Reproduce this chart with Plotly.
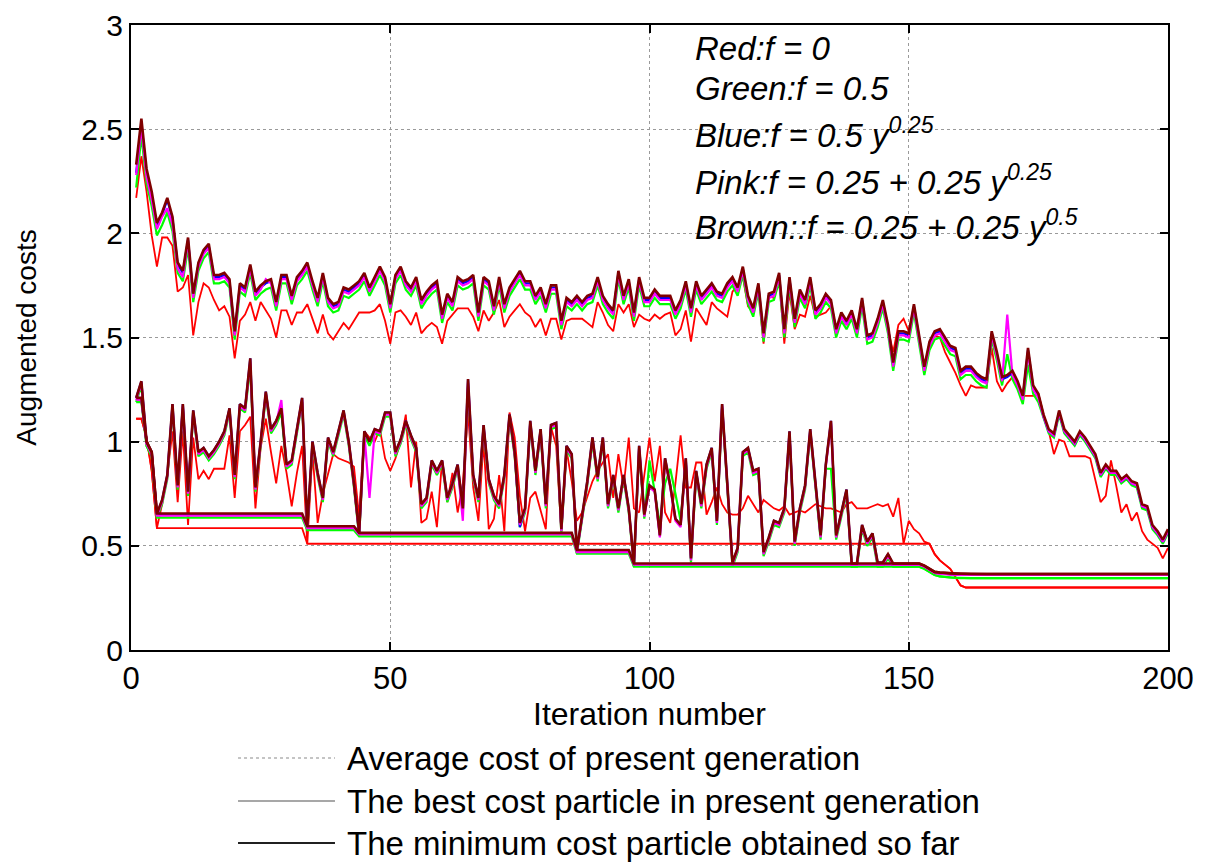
import plotly.graph_objects as go

iterations = list(range(1, 201))

# ---------------- average cost of present generation ----------------
red_avg = [2.17,2.37,2.20,1.99,1.84,1.98,1.98,1.94,1.72,1.74,
           1.80,1.51,1.67,1.76,1.74,1.68,1.63,1.65,1.60,1.40,
           1.58,1.61,1.67,1.58,1.67,1.63,1.59,1.50,1.63,1.63,
           1.56,1.62,1.62,1.66,1.59,1.52,1.61,1.52,1.49,1.53,
           1.57,1.54,1.58,1.62,1.62,1.62,1.63,1.66,1.58,1.47,
           1.62,1.63,1.60,1.56,1.62,1.52,1.55,1.57,1.55,1.47,
           1.58,1.61,1.64,1.64,1.64,1.60,1.53,1.63,1.58,1.62,
           1.68,1.55,1.60,1.63,1.66,1.62,1.60,1.55,1.59,1.51,
           1.59,1.59,1.49,1.58,1.59,1.59,1.59,1.57,1.55,1.67,
           1.62,1.56,1.53,1.66,1.62,1.66,1.55,1.61,1.59,1.58,
           1.61,1.59,1.61,1.62,1.51,1.54,1.63,1.48,1.64,1.60,
           1.56,1.67,1.64,1.62,1.60,1.72,1.75,1.79,1.65,1.62,
           1.72,1.47,1.70,1.69,1.78,1.47,1.72,1.54,1.61,1.60,
           1.70,1.60,1.61,1.62,1.65,1.54,1.60,1.56,1.62,1.52,
           1.67,1.51,1.52,1.58,1.65,1.54,1.43,1.56,1.59,1.53,
           1.63,1.49,1.35,1.45,1.51,1.50,1.43,1.38,1.33,1.27,
           1.22,1.27,1.26,1.26,1.26,1.45,1.29,1.24,1.28,1.31,
           1.26,1.22,1.22,1.22,1.23,1.13,1.05,0.94,1.01,1.00,
           0.93,0.93,0.93,0.93,0.92,0.82,0.71,0.74,0.91,0.79,
           0.66,0.70,0.62,0.66,0.57,0.53,0.51,0.49,0.44,0.49]

green_avg = [2.22,2.47,2.24,2.13,1.99,2.04,2.10,2.01,1.81,1.77,
             1.93,1.67,1.82,1.88,1.91,1.76,1.76,1.77,1.74,1.49,
             1.72,1.70,1.81,1.68,1.71,1.73,1.74,1.63,1.76,1.76,
             1.66,1.75,1.78,1.82,1.73,1.65,1.77,1.65,1.62,1.63,
             1.70,1.69,1.71,1.73,1.77,1.70,1.75,1.80,1.75,1.62,
             1.76,1.80,1.73,1.70,1.75,1.64,1.68,1.71,1.73,1.57,
             1.67,1.63,1.75,1.73,1.74,1.76,1.58,1.75,1.73,1.61,
             1.75,1.62,1.70,1.74,1.78,1.73,1.73,1.66,1.70,1.62,
             1.71,1.71,1.54,1.65,1.63,1.66,1.63,1.66,1.67,1.75,
             1.66,1.62,1.59,1.78,1.66,1.74,1.58,1.75,1.65,1.65,
             1.69,1.66,1.66,1.66,1.59,1.64,1.73,1.60,1.73,1.66,
             1.69,1.72,1.68,1.67,1.72,1.75,1.70,1.80,1.66,1.60,
             1.72,1.48,1.67,1.68,1.77,1.50,1.75,1.55,1.69,1.64,
             1.75,1.59,1.62,1.67,1.64,1.50,1.58,1.54,1.59,1.50,
             1.65,1.47,1.48,1.55,1.64,1.52,1.34,1.49,1.49,1.48,
             1.62,1.46,1.32,1.44,1.49,1.50,1.46,1.42,1.41,1.30,
             1.32,1.32,1.29,1.27,1.26,1.49,1.39,1.27,1.42,1.30,
             1.25,1.18,1.37,1.23,1.19,1.11,1.04,1.02,1.13,1.04,
             1.01,0.98,1.03,1.00,0.96,0.92,0.83,0.87,0.84,0.84,
             0.80,0.82,0.79,0.78,0.68,0.67,0.58,0.55,0.51,0.56]

blue_avg = [2.29,2.53,2.29,2.18,2.04,2.09,2.16,2.07,1.85,1.81,
            1.97,1.70,1.85,1.91,1.94,1.79,1.79,1.80,1.77,1.52,
            1.75,1.73,1.84,1.71,1.74,1.76,1.77,1.66,1.79,1.79,
            1.69,1.78,1.81,1.85,1.76,1.68,1.80,1.68,1.65,1.66,
            1.73,1.72,1.74,1.76,1.80,1.73,1.78,1.83,1.78,1.65,
            1.79,1.83,1.76,1.73,1.78,1.67,1.71,1.74,1.76,1.60,
            1.70,1.66,1.78,1.76,1.77,1.79,1.61,1.78,1.76,1.64,
            1.78,1.65,1.73,1.77,1.81,1.76,1.76,1.69,1.73,1.65,
            1.74,1.74,1.57,1.68,1.66,1.69,1.66,1.69,1.70,1.78,
            1.69,1.65,1.62,1.81,1.69,1.77,1.61,1.78,1.68,1.68,
            1.72,1.69,1.69,1.69,1.62,1.67,1.76,1.63,1.76,1.69,
            1.72,1.75,1.71,1.70,1.75,1.78,1.73,1.83,1.69,1.63,
            1.75,1.51,1.70,1.71,1.80,1.53,1.78,1.58,1.72,1.67,
            1.78,1.62,1.65,1.70,1.67,1.53,1.61,1.57,1.62,1.53,
            1.68,1.50,1.51,1.58,1.67,1.55,1.37,1.52,1.52,1.51,
            1.65,1.49,1.35,1.47,1.52,1.53,1.49,1.45,1.44,1.33,
            1.35,1.35,1.32,1.30,1.29,1.52,1.42,1.30,1.31,1.33,
            1.28,1.21,1.44,1.26,1.22,1.12,1.05,1.03,1.14,1.05,
            1.02,0.99,1.04,1.01,0.97,0.93,0.84,0.88,0.85,0.85,
            0.81,0.83,0.80,0.79,0.69,0.68,0.59,0.56,0.52,0.57]

pink_avg = [2.28,2.51,2.27,2.16,2.02,2.08,2.12,2.04,1.83,1.79,
            1.96,1.69,1.84,1.90,1.93,1.78,1.78,1.79,1.76,1.51,
            1.74,1.72,1.83,1.70,1.73,1.78,1.76,1.65,1.78,1.78,
            1.68,1.77,1.80,1.84,1.75,1.67,1.79,1.67,1.64,1.65,
            1.72,1.71,1.73,1.75,1.79,1.72,1.77,1.82,1.77,1.64,
            1.78,1.82,1.75,1.72,1.77,1.66,1.70,1.73,1.75,1.59,
            1.69,1.65,1.77,1.75,1.76,1.78,1.60,1.77,1.75,1.63,
            1.77,1.64,1.72,1.76,1.80,1.75,1.75,1.68,1.72,1.64,
            1.73,1.73,1.56,1.67,1.65,1.68,1.65,1.68,1.69,1.77,
            1.68,1.64,1.61,1.80,1.68,1.76,1.60,1.77,1.67,1.67,
            1.71,1.68,1.68,1.68,1.61,1.66,1.75,1.62,1.75,1.68,
            1.71,1.74,1.70,1.69,1.74,1.77,1.72,1.82,1.68,1.62,
            1.74,1.50,1.69,1.70,1.79,1.52,1.77,1.57,1.71,1.66,
            1.77,1.61,1.64,1.69,1.66,1.52,1.60,1.56,1.61,1.52,
            1.67,1.49,1.50,1.57,1.66,1.54,1.36,1.51,1.51,1.50,
            1.64,1.48,1.34,1.46,1.51,1.52,1.48,1.44,1.43,1.32,
            1.34,1.34,1.31,1.29,1.28,1.51,1.41,1.29,1.61,1.32,
            1.27,1.20,1.43,1.25,1.21,1.12,1.05,1.03,1.14,1.05,
            1.02,0.99,1.04,1.01,0.97,0.93,0.84,0.88,0.85,0.85,
            0.81,0.83,0.80,0.79,0.69,0.68,0.59,0.56,0.52,0.57]

brown_avg = [2.33,2.55,2.31,2.20,2.05,2.10,2.17,2.08,1.86,1.82,
             1.98,1.71,1.86,1.92,1.95,1.80,1.80,1.81,1.78,1.53,
             1.76,1.74,1.85,1.72,1.75,1.77,1.78,1.67,1.80,1.80,
             1.70,1.79,1.82,1.86,1.77,1.69,1.81,1.69,1.66,1.67,
             1.74,1.73,1.75,1.77,1.81,1.74,1.79,1.84,1.79,1.66,
             1.80,1.84,1.77,1.74,1.79,1.68,1.72,1.75,1.77,1.61,
             1.71,1.67,1.79,1.77,1.78,1.80,1.62,1.79,1.77,1.65,
             1.79,1.66,1.74,1.78,1.82,1.77,1.77,1.70,1.74,1.66,
             1.75,1.75,1.58,1.69,1.67,1.70,1.67,1.70,1.71,1.79,
             1.70,1.66,1.63,1.82,1.70,1.78,1.62,1.79,1.69,1.69,
             1.73,1.70,1.70,1.70,1.63,1.68,1.77,1.64,1.77,1.70,
             1.73,1.76,1.72,1.71,1.76,1.79,1.74,1.84,1.70,1.64,
             1.76,1.52,1.71,1.72,1.81,1.54,1.79,1.59,1.73,1.68,
             1.79,1.63,1.66,1.71,1.68,1.54,1.62,1.58,1.63,1.54,
             1.69,1.51,1.52,1.59,1.68,1.56,1.38,1.53,1.53,1.52,
             1.66,1.50,1.36,1.48,1.53,1.54,1.50,1.46,1.45,1.34,
             1.36,1.36,1.33,1.31,1.30,1.53,1.43,1.31,1.32,1.34,
             1.29,1.22,1.45,1.27,1.23,1.13,1.06,1.04,1.15,1.06,
             1.03,1.00,1.05,1.02,0.98,0.94,0.85,0.89,0.86,0.86,
             0.82,0.84,0.81,0.80,0.70,0.69,0.60,0.57,0.53,0.58]

# ---------------- best cost particle in present generation ----------------
red_best = [1.11,1.11,1.02,0.86,0.585,0.70,0.84,1.05,0.71,1.05,
            0.60,1.02,0.82,0.86,0.82,0.87,0.87,0.87,1.03,0.73,
            1.05,1.08,1.12,0.68,0.97,1.11,0.95,0.80,0.98,0.85,
            0.69,0.85,0.98,0.51,0.95,0.61,0.75,0.84,0.94,0.92,
            0.91,0.90,0.88,0.64,1.05,1.02,1.00,1.06,0.92,0.86,
            0.92,1.00,1.13,0.78,1.00,0.61,0.63,0.76,0.59,0.91,
            0.71,0.85,0.66,0.80,1.14,0.78,0.62,1.00,0.58,0.63,
            0.84,0.57,1.14,1.02,0.74,0.57,0.73,0.76,0.67,0.58,
            1.07,0.98,0.57,0.96,0.81,0.62,0.66,0.74,0.81,0.86,
            0.90,0.94,0.73,0.94,0.78,1.02,0.68,0.66,0.84,1.02,
            0.81,0.98,0.66,0.61,0.80,1.03,0.78,0.78,0.90,0.90,
            0.65,0.71,0.78,0.70,0.66,0.65,0.65,0.68,0.74,0.70,
            0.66,0.72,0.70,0.68,0.67,0.69,0.65,0.66,0.67,0.66,
            0.68,0.70,0.69,0.68,0.68,0.67,0.66,0.70,0.71,0.68,
            0.68,0.68,0.69,0.70,0.69,0.70,0.64,0.73,0.51,0.62,
            0.58,0.56,0.52,0.51,0.46,0.43,0.41,0.39,0.35,0.31,
            0.30,0.30,0.30,0.30,0.30,0.30,0.30,0.30,0.30,0.30,
            0.30,0.30,0.30,0.30,0.30,0.30,0.30,0.30,0.30,0.30,
            0.30,0.30,0.30,0.30,0.30,0.30,0.30,0.30,0.30,0.30,
            0.30,0.30,0.30,0.30,0.30,0.30,0.30,0.30,0.30,0.30]

green_best = [1.19,1.27,0.98,0.93,0.635,0.70,0.82,1.16,0.77,1.16,
              0.74,1.13,0.93,0.95,0.91,0.94,0.98,1.03,1.14,0.82,
              1.16,1.14,1.36,0.76,0.98,1.22,1.04,1.08,1.14,0.87,
              0.89,1.03,1.19,0.575,0.98,0.83,0.71,1.00,0.93,1.03,
              1.13,0.98,0.78,0.545,1.03,0.98,1.04,1.03,1.12,1.12,
              0.93,0.99,1.08,1.01,0.95,0.68,0.71,0.89,0.84,0.89,
              0.71,0.78,0.87,0.66,1.26,0.82,0.71,1.06,0.80,0.72,
              0.68,0.82,1.11,0.93,0.59,0.66,1.08,0.84,1.04,0.68,
              1.06,1.07,0.56,0.96,0.92,0.463,0.63,0.79,1.00,0.81,
              1.00,0.68,0.82,0.66,0.82,0.66,0.40,0.96,0.63,0.91,
              0.76,0.60,0.80,0.87,0.75,0.62,0.90,0.42,0.84,0.68,
              0.87,0.95,0.60,1.16,0.78,0.40,0.47,0.93,0.95,0.84,
              0.85,0.45,0.52,0.60,0.59,0.66,1.03,0.50,0.66,0.77,
              1.04,0.77,0.53,0.87,0.87,0.53,0.64,0.75,0.40,0.40,
              0.58,0.50,0.54,0.40,0.40,0.44,0.40,0.40,0.40,0.40,
              0.40,0.40,0.39,0.375,0.36,0.353,0.35,0.348,0.346,0.345,
              0.345,0.345,0.345,0.345,0.345,0.345,0.345,0.345,0.345,0.345,
              0.345,0.345,0.345,0.345,0.345,0.345,0.345,0.345,0.345,0.345,
              0.345,0.345,0.345,0.345,0.345,0.345,0.345,0.345,0.345,0.345,
              0.345,0.345,0.345,0.345,0.345,0.345,0.345,0.345,0.345,0.345]

blue_best = [1.21,1.29,1.00,0.95,0.65,0.72,0.84,1.18,0.79,1.18,
             0.76,1.15,0.95,0.97,0.93,0.96,1.00,1.05,1.16,0.84,
             1.18,1.16,1.40,0.78,1.00,1.24,1.06,1.10,1.16,0.89,
             0.91,1.05,1.21,0.59,1.00,0.85,0.73,1.02,0.95,1.05,
             1.15,1.00,0.80,0.558,1.05,1.00,1.06,1.05,1.14,1.14,
             0.95,1.01,1.10,1.03,0.97,0.70,0.73,0.91,0.86,0.91,
             0.73,0.80,0.89,0.68,1.30,0.84,0.73,1.08,0.82,0.74,
             0.70,0.84,1.13,0.95,0.59,0.68,1.10,0.86,1.06,0.70,
             1.08,1.09,0.58,0.98,0.94,0.475,0.65,0.81,1.02,0.83,
             1.02,0.70,0.84,0.68,0.84,0.68,0.412,0.98,0.65,0.79,
             0.77,0.55,0.92,0.79,0.63,0.60,0.92,0.44,0.86,0.70,
             0.89,0.97,0.62,1.18,0.80,0.42,0.49,0.95,0.97,0.86,
             0.87,0.47,0.54,0.62,0.61,0.68,1.05,0.52,0.68,0.79,
             1.06,0.79,0.55,0.89,1.10,0.55,0.66,0.77,0.412,0.412,
             0.60,0.52,0.56,0.42,0.42,0.46,0.412,0.412,0.412,0.412,
             0.412,0.412,0.402,0.387,0.372,0.368,0.366,0.364,0.363,0.362,
             0.362,0.362,0.362,0.362,0.362,0.362,0.362,0.362,0.362,0.362,
             0.362,0.362,0.362,0.362,0.362,0.362,0.362,0.362,0.362,0.362,
             0.362,0.362,0.362,0.362,0.362,0.362,0.362,0.362,0.362,0.362,
             0.362,0.362,0.362,0.362,0.362,0.362,0.362,0.362,0.362,0.362]

pink_best = [1.20,1.28,0.99,0.94,0.645,0.71,0.83,1.17,0.78,1.17,
             0.75,1.14,0.94,0.96,0.92,0.95,0.99,1.04,1.15,0.83,
             1.17,1.15,1.38,0.77,0.99,1.23,1.05,1.09,1.20,0.88,
             0.90,1.04,1.20,0.585,0.99,0.84,0.72,1.01,0.94,1.04,
             1.14,0.99,0.79,0.555,1.04,0.73,1.05,1.04,1.13,1.13,
             0.94,1.00,1.09,1.02,0.96,0.69,0.72,0.90,0.85,0.90,
             0.72,0.79,0.88,0.62,1.28,0.83,0.72,1.07,0.81,0.73,
             0.69,0.83,1.12,0.94,0.60,0.67,1.09,0.85,1.05,0.69,
             1.07,1.08,0.57,0.97,0.93,0.47,0.64,0.80,1.01,0.82,
             1.01,0.69,0.83,0.67,0.83,0.67,0.41,0.97,0.64,0.78,
             0.76,0.54,0.91,0.78,0.62,0.59,0.91,0.43,0.85,0.69,
             0.88,0.96,0.61,1.17,0.79,0.41,0.48,0.94,0.96,0.85,
             0.86,0.46,0.53,0.61,0.60,0.67,1.04,0.51,0.67,0.78,
             1.05,0.78,0.54,0.88,1.09,0.54,0.65,0.76,0.41,0.41,
             0.59,0.51,0.55,0.41,0.41,0.45,0.41,0.41,0.41,0.41,
             0.41,0.41,0.40,0.385,0.37,0.366,0.364,0.362,0.361,0.36,
             0.36,0.36,0.36,0.36,0.36,0.36,0.36,0.36,0.36,0.36,
             0.36,0.36,0.36,0.36,0.36,0.36,0.36,0.36,0.36,0.36,
             0.36,0.36,0.36,0.36,0.36,0.36,0.36,0.36,0.36,0.36,
             0.36,0.36,0.36,0.36,0.36,0.36,0.36,0.36,0.36,0.36]

brown_best = [1.21,1.29,1.00,0.95,0.655,0.72,0.84,1.18,0.79,1.18,
              0.76,1.15,0.95,0.97,0.93,0.96,1.00,1.05,1.16,0.84,
              1.18,1.16,1.40,0.78,1.00,1.24,1.06,1.10,1.16,0.89,
              0.91,1.05,1.21,0.594,1.00,0.85,0.73,1.02,0.95,1.05,
              1.15,1.00,0.80,0.562,1.05,1.00,1.06,1.05,1.14,1.14,
              0.95,1.01,1.10,1.03,0.97,0.70,0.73,0.91,0.86,0.91,
              0.73,0.80,0.89,0.68,1.30,0.84,0.73,1.08,0.82,0.74,
              0.70,0.84,1.13,0.95,0.61,0.68,1.10,0.86,1.06,0.70,
              1.08,1.09,0.58,0.98,0.94,0.48,0.65,0.81,1.02,0.83,
              1.02,0.70,0.84,0.68,0.84,0.68,0.415,0.98,0.65,0.79,
              0.77,0.55,0.92,0.79,0.63,0.60,0.92,0.44,0.86,0.70,
              0.89,0.97,0.62,1.18,0.80,0.42,0.49,0.95,0.97,0.86,
              0.87,0.47,0.54,0.62,0.61,0.68,1.05,0.52,0.68,0.79,
              1.06,0.79,0.55,0.89,1.10,0.55,0.66,0.77,0.415,0.415,
              0.60,0.52,0.56,0.42,0.42,0.46,0.415,0.415,0.415,0.415,
              0.415,0.415,0.405,0.39,0.375,0.372,0.37,0.368,0.367,0.366,
              0.366,0.365,0.365,0.365,0.365,0.365,0.365,0.365,0.365,0.365,
              0.365,0.365,0.365,0.365,0.365,0.365,0.365,0.365,0.365,0.365,
              0.365,0.365,0.365,0.365,0.365,0.365,0.365,0.365,0.365,0.365,
              0.365,0.365,0.365,0.365,0.365,0.365,0.365,0.365,0.365,0.365]

# ---------------- minimum cost particle obtained so far (breakpoints) ----------------
red_min_iter = [1, 2, 3, 4, 5, 33, 34, 154, 155, 156, 157, 158, 159, 160, 161, 200]
red_min = [1.11, 1.11, 1.02, 0.86, 0.585, 0.585, 0.51, 0.51, 0.46, 0.43, 0.41, 0.39, 0.35, 0.31, 0.30, 0.30]

min_iter = [1, 2, 3, 4, 5, 33, 34, 43, 44, 85, 86, 96, 97, 152, 153, 154, 155, 156, 158, 162, 200]
green_min = [1.19, 1.19, 0.98, 0.93, 0.635, 0.635, 0.575, 0.575, 0.545, 0.545, 0.463, 0.463, 0.40, 0.40, 0.39, 0.375, 0.36, 0.353, 0.348, 0.345, 0.345]
blue_min = [1.205, 1.205, 0.995, 0.945, 0.65, 0.65, 0.59, 0.59, 0.558, 0.558, 0.475, 0.475, 0.412, 0.412, 0.402, 0.387, 0.372, 0.368, 0.364, 0.362, 0.362]
pink_min = [1.20, 1.20, 0.99, 0.94, 0.645, 0.645, 0.585, 0.585, 0.555, 0.555, 0.47, 0.47, 0.41, 0.41, 0.40, 0.385, 0.37, 0.366, 0.362, 0.36, 0.36]
brown_min = [1.21, 1.21, 1.00, 0.95, 0.655, 0.655, 0.594, 0.594, 0.562, 0.562, 0.48, 0.48, 0.415, 0.415, 0.405, 0.39, 0.375, 0.372, 0.368, 0.365, 0.365]

x_ticks = [0, 50, 100, 150, 200]
y_ticks = [0, 0.5, 1, 1.5, 2, 2.5, 3]

f_labels = ["Red:f = 0",
            "Green:f = 0.5",
            "Blue:f = 0.5 y<sup>0.25</sup>",
            "Pink:f = 0.25 + 0.25 y<sup>0.25</sup>",
            "Brown::f = 0.25 + 0.25 y<sup>0.5</sup>"]
legend_labels = ["Average cost of present generation",
                 "The best cost particle in present generation",
                 "The minimum cost particle obtained so far"]

series = [
    ("#FF0000", 1.8, red_avg, red_best, red_min_iter, red_min),
    ("#00FF00", 2.2, green_avg, green_best, min_iter, green_min),
    ("#0000FF", 2.2, blue_avg, blue_best, min_iter, blue_min),
    ("#FF00FF", 2.2, pink_avg, pink_best, min_iter, pink_min),
    ("#800000", 2.6, brown_avg, brown_best, min_iter, brown_min),
]

fig = go.Figure()
for color, w, avg, best, mx, mn in series:
    fig.add_trace(go.Scatter(x=iterations, y=avg, mode="lines",
                             line=dict(color=color, width=w), hoverinfo="skip"))
    fig.add_trace(go.Scatter(x=iterations, y=best, mode="lines",
                             line=dict(color=color, width=w), hoverinfo="skip"))
    fig.add_trace(go.Scatter(x=mx, y=mn, mode="lines",
                             line=dict(color=color, width=w), hoverinfo="skip"))

font_family = "Liberation Sans, Arial, Helvetica, sans-serif"

# the page adds an 8 px body margin, so the figure is 8 px smaller than the window
fig.update_layout(
    width=1209, height=856,
    margin=dict(l=123, r=49, t=17, b=214, autoexpand=False),
    plot_bgcolor="white", paper_bgcolor="white",
    showlegend=False,
    font=dict(family=font_family, color="black"),
    xaxis=dict(range=[0, 200], tickvals=x_ticks, ticks="inside", ticklen=8,
               tickwidth=1.5, tickcolor="black", automargin=False,
               showline=True, linecolor="black", linewidth=2, mirror="ticks",
               showgrid=True, gridcolor="#9a9a9a", griddash="dot", gridwidth=1,
               zeroline=False, tickfont=dict(size=31),
               title=dict(text="Iteration number", font=dict(size=32), standoff=4)),
    yaxis=dict(range=[0, 3], tickvals=y_ticks, ticks="inside", ticklen=8,
               tickwidth=1.5, tickcolor="black", automargin=False,
               showline=True, linecolor="black", linewidth=2, mirror="ticks",
               showgrid=True, gridcolor="#9a9a9a", griddash="dot", gridwidth=1,
               zeroline=False, tickfont=dict(size=30),
               title=dict(text="Augmented costs", font=dict(size=28), standoff=36)),
)

# formula annotations
label_y = [0.963, 0.899, 0.827, 0.752, 0.68]
for txt, yy in zip(f_labels, label_y):
    fig.add_annotation(text="<i>" + txt + "</i>", xref="paper", yref="paper",
                       x=0.542, y=yy, xanchor="left", yanchor="middle",
                       showarrow=False, font=dict(size=33, color="black"))

# legend drawn below the axes
leg_y = [-0.1728, -0.2416, -0.3088]
leg_styles = [dict(color="#8a8a8a", width=1.2, dash="dot"),
              dict(color="#8a8a8a", width=1.5),
              dict(color="#202020", width=1.8)]
for txt, yy, st in zip(legend_labels, leg_y, leg_styles):
    fig.add_shape(type="line", xref="paper", yref="paper",
                  x0=0.1032, x1=0.1967, y0=yy, y1=yy, line=st)
    fig.add_annotation(text=txt, xref="paper", yref="paper",
                       x=0.2064, y=yy, xanchor="left", yanchor="middle",
                       showarrow=False, font=dict(size=33, color="black"))

fig.write_html("out.html")
